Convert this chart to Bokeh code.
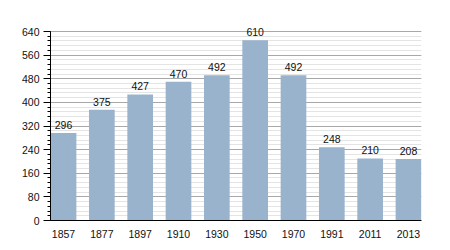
from bokeh.plotting import figure
from bokeh.models import ColumnDataSource, FixedTicker, Range1d, LabelSet
from bokeh.core.properties import value
from bokeh.embed import file_html
from bokeh.resources import INLINE

years = ["1857", "1877", "1897", "1910", "1930", "1950", "1970", "1991", "2011", "2013"]
population = [296, 375, 427, 470, 492, 610, 492, 248, 210, 208]
y_major = [0, 80, 160, 240, 320, 400, 480, 560, 640]
y_minor = list(range(0, 641, 16))

xs = list(range(len(years)))
src = ColumnDataSource(dict(x=xs, top=population, label=[str(v) for v in population]))

p = figure(width=450, height=250, output_backend="svg", toolbar_location=None,
           x_range=Range1d(-0.34, len(years) - 1 + 0.34), y_range=Range1d(0, 701),
           min_border_left=50, min_border_right=29, min_border_top=13, min_border_bottom=30)
p.outline_line_color = None
p.background_fill_color = "white"
p.border_fill_color = "white"

p.vbar(x="x", top="top", width=0.67, source=src, fill_color="#9ab3cd", line_color=None)
labels = LabelSet(x="x", y="top", text="label", source=src, text_align="center",
                  text_baseline="bottom", y_offset=4, text_font=value("Liberation Sans"),
                  text_font_size=value("10.5px"), text_color=value("#111111"))
p.add_layout(labels)

p.yaxis.ticker = FixedTicker(ticks=y_major, minor_ticks=y_minor)
p.yaxis.bounds = (0, 640)
p.xaxis.ticker = FixedTicker(ticks=xs)
p.xaxis.major_label_overrides = {i: y for i, y in enumerate(years)}

for ax in (p.xaxis[0], p.yaxis[0]):
    ax.axis_line_color = "black"
    ax.major_label_text_font = "Liberation Sans"
    ax.major_label_text_font_size = "10.5px"
    ax.major_label_text_color = "#111111"

p.xaxis.major_tick_line_color = None
p.xaxis.minor_tick_line_color = None
p.xaxis.major_label_standoff = 3

p.yaxis.major_tick_in = 0
p.yaxis.major_tick_out = 7
p.yaxis.minor_tick_in = 0
p.yaxis.minor_tick_out = 3
p.yaxis.major_tick_line_color = "black"
p.yaxis.minor_tick_line_color = "black"
p.yaxis.major_label_standoff = 4

p.xgrid.grid_line_color = None
p.ygrid.grid_line_color = "#a8a8a8"
p.ygrid.minor_grid_line_color = "#e4e4e4"
p.ygrid.level = "underlay"

open("out.html", "w").write(file_html(p, INLINE))
